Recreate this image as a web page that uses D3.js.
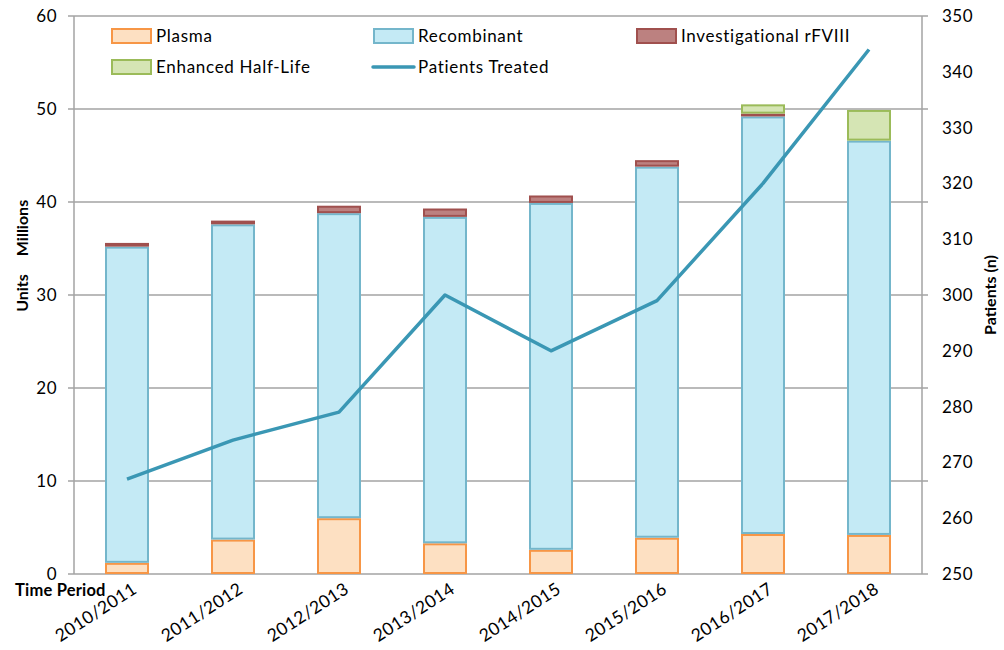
<!DOCTYPE html>
<html>
<head>
<meta charset="utf-8">
<script src="https://cdn.jsdelivr.net/npm/d3@7"></script>
<style>
  html, body { margin: 0; padding: 0; background: #fff; }
  svg { display: block; font-family: Lato, "Open Sans", sans-serif; }
</style>
</head>
<body>
<svg id="chart" width="1004" height="650"></svg>
<script>
// Factor VIII units issued (millions) by product type, with patients treated
const categories = ["2010/2011", "2011/2012", "2012/2013", "2013/2014", "2014/2015", "2015/2016", "2016/2017", "2017/2018"];
const plasma          = [1.2, 3.7, 6.0, 3.3, 2.6, 3.9, 4.3, 4.2];
const recombinant     = [34.0, 33.9, 32.8, 35.1, 37.3, 39.9, 44.9, 42.4];
const investigational = [0.4, 0.4, 0.8, 0.9, 0.8, 0.7, 0.3, 0];
const enhanced        = [0, 0, 0, 0, 0, 0, 1.0, 3.3];
const patients        = [267, 274, 279, 300, 290, 299, 320, 344];
const leftTicks  = [0, 10, 20, 30, 40, 50, 60];
const rightTicks = [250, 260, 270, 280, 290, 300, 310, 320, 330, 340, 350];

const series = [
  { key: "plasma",          name: "Plasma",                 values: plasma,          fill: "#fde0c2", stroke: "#f79646" },
  { key: "recombinant",     name: "Recombinant",            values: recombinant,     fill: "#c4eaf5", stroke: "#74b6cb" },
  { key: "investigational", name: "Investigational rFVIII", values: investigational, fill: "#bc8180", stroke: "#a0504e" },
  { key: "enhanced",        name: "Enhanced Half-Life",     values: enhanced,        fill: "#d5e5b4", stroke: "#9bbb59" }
];
const lineColor = "#3a97b4";

const svg = d3.select("#chart");
const plotLeft = 74, plotRight = 922, plotTop = 16, plotBottom = 574;

const x = d3.scaleBand().domain(categories).range([plotLeft, plotRight])
  .paddingInner(0.585).paddingOuter(0.2925);
const y = d3.scaleLinear().domain([0, 60]).range([plotBottom, plotTop]);
const y2 = d3.scaleLinear().domain([250, 350]).range([plotBottom, plotTop]);

const gridColor = "#a3a3a3";

// horizontal gridlines (extend slightly past both axes as tick marks)
svg.append("g").selectAll("line").data(leftTicks).join("line")
  .attr("x1", plotLeft - 6).attr("x2", plotRight + 6)
  .attr("y1", d => y(d)).attr("y2", d => y(d))
  .attr("stroke", gridColor).attr("stroke-width", 1.5);

// vertical axis lines
svg.append("line").attr("x1", plotLeft).attr("x2", plotLeft).attr("y1", plotTop).attr("y2", plotBottom)
  .attr("stroke", gridColor).attr("stroke-width", 1.5);
svg.append("line").attr("x1", plotRight).attr("x2", plotRight).attr("y1", plotTop).attr("y2", plotBottom)
  .attr("stroke", gridColor).attr("stroke-width", 1.5);

// left tick labels
svg.append("g").selectAll("text").data(leftTicks).join("text")
  .attr("x", plotLeft - 17).attr("y", d => y(d)).attr("dy", "0.35em")
  .attr("text-anchor", "end").attr("font-size", 17).attr("letter-spacing", 0.5).attr("fill", "#000")
  .text(d => d);

// right tick labels
svg.append("g").selectAll("text").data(rightTicks).join("text")
  .attr("x", plotRight + 20).attr("y", d => y2(d)).attr("dy", "0.35em")
  .attr("text-anchor", "start").attr("font-size", 17).attr("letter-spacing", 0.5).attr("fill", "#000")
  .text(d => d);

// stacked bars
const rows = categories.map((c, i) => {
  const r = { category: c };
  series.forEach(s => { r[s.key] = s.values[i]; });
  return r;
});
const stacked = d3.stack().keys(series.map(s => s.key))(rows);

stacked.forEach((layer, li) => {
  const s = series[li];
  svg.append("g").selectAll("rect").data(layer.filter(d => d[1] - d[0] > 0)).join("rect")
    .attr("x", d => x(d.data.category) + 1)
    .attr("width", x.bandwidth() - 2)
    .attr("y", d => y(d[1]) + 1)
    .attr("height", d => Math.max(0, y(d[0]) - y(d[1]) - 2))
    .attr("fill", s.fill)
    .attr("stroke", s.stroke)
    .attr("stroke-width", 2);
});

// patients treated line
const line = d3.line()
  .x((d, i) => x(categories[i]) + x.bandwidth() / 2)
  .y(d => y2(d));
svg.append("path").datum(patients)
  .attr("d", line).attr("fill", "none")
  .attr("stroke", lineColor).attr("stroke-width", 3.5)
  .attr("stroke-linejoin", "round");

// category labels
svg.append("g").selectAll("text").data(categories).join("text")
  .attr("transform", d => `translate(${x(d) + x.bandwidth() / 2 + 11},${plotBottom + 18}) rotate(-33)`)
  .attr("text-anchor", "end").attr("font-size", 17.5).attr("letter-spacing", 0.4).attr("fill", "#000")
  .text(d => d);

// axis titles
svg.append("text").attr("x", 15).attr("y", 596)
  .attr("font-size", 16.5).attr("font-weight", "bold").attr("letter-spacing", 0.2).text("Time Period");
svg.append("text").attr("transform", "translate(28,293) rotate(-90)")
  .attr("text-anchor", "middle").attr("font-size", 16).attr("font-weight", "bold").text("Units");
svg.append("text").attr("transform", "translate(28,228) rotate(-90)")
  .attr("text-anchor", "middle").attr("font-size", 16).attr("font-weight", "bold").text("Millions");
svg.append("text").attr("transform", "translate(996,295) rotate(-90)")
  .attr("text-anchor", "middle").attr("font-size", 16).attr("font-weight", "bold").text("Patients (n)");

// legend
const legendItems = [
  { s: series[0], x: 111, y: 36 },
  { s: series[1], x: 373, y: 36 },
  { s: series[2], x: 636, y: 36 },
  { s: series[3], x: 111, y: 67 },
  { s: { name: "Patients Treated", line: true }, x: 373, y: 67 }
];
const lg = svg.append("g");
legendItems.forEach(it => {
  if (it.s.line) {
    lg.append("line").attr("x1", it.x).attr("x2", it.x + 41)
      .attr("y1", it.y).attr("y2", it.y)
      .attr("stroke", lineColor).attr("stroke-width", 3.5).attr("stroke-linecap", "round");
  } else {
    lg.append("rect").attr("x", it.x + 1).attr("y", it.y - 7)
      .attr("width", 39).attr("height", 14)
      .attr("fill", it.s.fill).attr("stroke", it.s.stroke).attr("stroke-width", 2);
  }
  lg.append("text").attr("x", it.x + 45).attr("y", it.y).attr("dy", "0.35em")
    .attr("font-size", 17).attr("letter-spacing", 0.7).attr("fill", "#000").text(it.s.name);
});
</script>
</body>
</html>
